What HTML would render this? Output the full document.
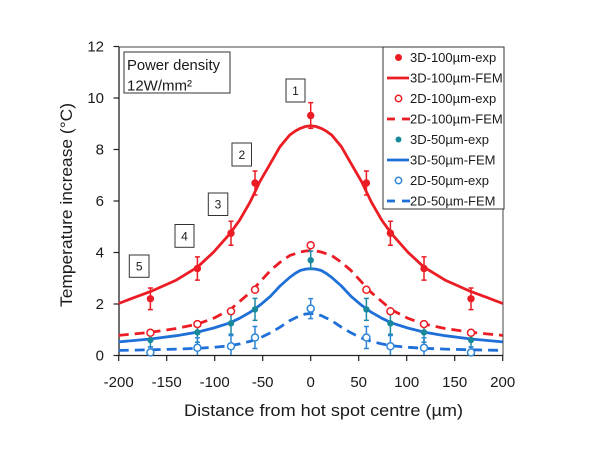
<!DOCTYPE html>
<html><head><meta charset="utf-8"><style>
html,body{margin:0;padding:0;background:#fff;}
svg{display:block;}
text{font-family:"Liberation Sans",sans-serif;fill:#1a1a1a;}
</style></head><body>
<svg width="600" height="473" viewBox="0 0 600 473" xmlns="http://www.w3.org/2000/svg">
<rect width="600" height="473" fill="#fff"/>
<!-- plot frame -->
<rect x="119" y="47" width="384" height="308.5" fill="none" stroke="#444" stroke-width="1"/>
<line x1="119" y1="47" x2="119" y2="355.5" stroke="#222" stroke-width="1.3"/>
<line x1="119" y1="355.5" x2="503" y2="355.5" stroke="#222" stroke-width="1.3"/>
<!-- y ticks -->
<g stroke="#222" stroke-width="1.2">
<line x1="113.5" y1="355.5" x2="119" y2="355.5"/>
<line x1="113.5" y1="304" x2="119" y2="304"/>
<line x1="113.5" y1="252.5" x2="119" y2="252.5"/>
<line x1="113.5" y1="201" x2="119" y2="201"/>
<line x1="113.5" y1="149.5" x2="119" y2="149.5"/>
<line x1="113.5" y1="98" x2="119" y2="98"/>
<line x1="113.5" y1="46.5" x2="119" y2="46.5"/>
<!-- x ticks -->
<line x1="118.7" y1="355.5" x2="118.7" y2="361"/>
<line x1="166.7" y1="355.5" x2="166.7" y2="361"/>
<line x1="214.7" y1="355.5" x2="214.7" y2="361"/>
<line x1="262.7" y1="355.5" x2="262.7" y2="361"/>
<line x1="310.7" y1="355.5" x2="310.7" y2="361"/>
<line x1="358.7" y1="355.5" x2="358.7" y2="361"/>
<line x1="406.7" y1="355.5" x2="406.7" y2="361"/>
<line x1="454.7" y1="355.5" x2="454.7" y2="361"/>
<line x1="502.7" y1="355.5" x2="502.7" y2="361"/>
</g>
<!-- y tick labels -->
<g font-size="15" text-anchor="end">
<text x="104" y="360.5">0</text>
<text x="104" y="309">2</text>
<text x="104" y="257.5">4</text>
<text x="104" y="206">6</text>
<text x="104" y="154.5">8</text>
<text x="104" y="103">10</text>
<text x="104" y="51.5">12</text>
</g>
<!-- x tick labels -->
<g font-size="15" text-anchor="middle">
<text x="118.7" y="387">-200</text>
<text x="166.7" y="387">-150</text>
<text x="214.7" y="387">-100</text>
<text x="262.7" y="387">-50</text>
<text x="310.7" y="387">0</text>
<text x="358.7" y="387">50</text>
<text x="406.7" y="387">100</text>
<text x="454.7" y="387">150</text>
<text x="502.7" y="387">200</text>
</g>
<!-- axis titles -->
<text x="323.5" y="416" font-size="17" text-anchor="middle" textLength="279" lengthAdjust="spacingAndGlyphs">Distance from hot spot centre (µm)</text>
<text transform="translate(72,205) rotate(-90)" font-size="17" text-anchor="middle" textLength="204" lengthAdjust="spacingAndGlyphs">Temperature increase (°C)</text>

<!-- curves -->
<g fill="none" stroke-width="2.8" stroke-linejoin="round" stroke-linecap="butt">
<polyline stroke="#ec1c24" points="118.7,303.5 134.5,297.4 150.4,291.6 176.3,280.1 197.4,267.2 213.7,252.0 230.1,233.4 239.7,220.1 250.2,201.8 259.8,181.7 270.4,163.4 280.0,146.7 289.6,135.1 295,131.2 300.1,128.4 305.5,126.5 310.7,125.8 315.9,126.5 321.3,128.4 326.4,131.2 331.8,135.1 341.4,146.7 351.0,163.4 361.6,181.7 371.2,201.8 381.7,220.1 391.3,233.4 407.7,252.0 424.0,267.2 445.1,280.1 471.0,291.6 486.9,297.4 502.7,303.5"/>
<polyline stroke="#ec1c24" stroke-dasharray="10,6" points="118.7,335.4 150.4,332.3 176.3,328.5 197.4,324.1 213.7,318.2 230.1,309.7 239.7,301.4 250.2,292.4 259.8,282.1 270.4,270.5 280.0,262.3 289.6,255.6 300.1,252.0 305.5,251.0 310.7,250.7 315.9,251.0 321.3,252.0 331.8,255.6 341.4,262.3 351.0,270.5 361.6,282.1 371.2,292.4 381.7,301.4 391.3,309.7 407.7,318.2 424.0,324.1 445.1,328.5 471.0,332.3 502.7,335.4"/>
<polyline stroke="#1f6fd8" points="118.7,341.9 150.4,339.0 176.3,335.7 197.4,332.1 213.7,328.0 230.1,322.8 239.7,318.2 250.2,312.2 259.8,305.3 270.4,296.3 280.0,286.0 289.6,277.5 295,273.5 300.1,270.5 305.5,269.1 310.7,268.7 315.9,269.1 321.3,270.5 326.4,273.5 331.8,277.5 341.4,286.0 351.0,296.3 361.6,305.3 371.2,312.2 381.7,318.2 391.3,322.8 407.7,328.0 424.0,332.1 445.1,335.7 471.0,339.0 502.7,341.9"/>
<polyline stroke="#1f6fd8" stroke-dasharray="10,6" points="118.7,350.4 150.4,349.8 176.3,349.1 197.4,348.3 213.7,347.3 230.1,345.7 239.7,343.9 250.2,341.3 259.8,338.0 270.4,332.8 280.0,327.2 289.6,320.7 300.1,315.6 305.5,314.0 310.7,313.5 315.9,314.0 321.3,315.6 331.8,320.7 341.4,327.2 351.0,332.8 361.6,338.0 371.2,341.3 381.7,343.9 391.3,345.7 407.7,347.3 424.0,348.3 445.1,349.1 471.0,349.8 502.7,350.4"/>
</g>

<!-- error bars 3D-100 -->
<g stroke="#ec1c24" stroke-width="1.5">
<path d="M150.4,288 V309.6 M147.9,288 H152.9 M147.9,309.6 H152.9"/>
<path d="M197.4,256.9 V280.1 M194.9,256.9 H199.9 M194.9,280.1 H199.9"/>
<path d="M231,221.2 V245.2 M228.5,221.2 H233.5 M228.5,245.2 H233.5"/>
<path d="M255,171 V195 M252.5,171 H257.5 M252.5,195 H257.5"/>
<path d="M310.7,102.6 V128.4 M308.2,102.6 H313.2 M308.2,128.4 H313.2"/>
<path d="M366.4,171 V195 M363.9,171 H368.9 M363.9,195 H368.9"/>
<path d="M390.4,221.2 V245.2 M387.9,221.2 H392.9 M387.9,245.2 H392.9"/>
<path d="M424,256.9 V280.1 M421.5,256.9 H426.5 M421.5,280.1 H426.5"/>
<path d="M471,288 V309.6 M468.5,288 H473.5 M468.5,309.6 H473.5"/>
</g>
<!-- error bars 3D-50 -->
<g stroke="#1d8aa8" stroke-width="1.5">
<path d="M150.4,333 V347 M147.9,333 H152.9 M147.9,347 H152.9"/>
<path d="M197.4,322.3 V342.3 M194.9,322.3 H199.9 M194.9,342.3 H199.9"/>
<path d="M231,312.3 V334.3 M228.5,312.3 H233.5 M228.5,334.3 H233.5"/>
<path d="M255,298.4 V320.4 M252.5,298.4 H257.5 M252.5,320.4 H257.5"/>
<path d="M310.7,251 V269 M308.2,251 H313.2 M308.2,269 H313.2"/>
<path d="M366.4,298.4 V320.4 M363.9,298.4 H368.9 M363.9,320.4 H368.9"/>
<path d="M390.4,312.3 V334.3 M387.9,312.3 H392.9 M387.9,334.3 H392.9"/>
<path d="M424,322.3 V342.3 M421.5,322.3 H426.5 M421.5,342.3 H426.5"/>
<path d="M471,333 V347 M468.5,333 H473.5 M468.5,347 H473.5"/>
</g>
<!-- error bars 2D-50 -->
<g stroke="#2f86d8" stroke-width="1.5">
<path d="M150.4,347 V355 M147.9,347 H152.9"/>
<path d="M197.4,337.8 V355 M194.9,337.8 H199.9"/>
<path d="M231,335.5 V355 M228.5,335.5 H233.5"/>
<path d="M255,326.5 V348.5 M252.5,326.5 H257.5 M252.5,348.5 H257.5"/>
<path d="M310.7,298.6 V318.6 M308.2,298.6 H313.2 M308.2,318.6 H313.2"/>
<path d="M366.4,326.5 V348.5 M363.9,326.5 H368.9 M363.9,348.5 H368.9"/>
<path d="M390.4,335.5 V355 M387.9,335.5 H392.9"/>
<path d="M424,337.8 V355 M421.5,337.8 H426.5"/>
<path d="M471,347 V355 M468.5,347 H473.5"/>
</g>

<!-- markers 3D-100 exp -->
<g fill="#ec1c24">
<circle cx="150.4" cy="298.8" r="3.7"/>
<circle cx="197.4" cy="268.5" r="3.7"/>
<circle cx="231" cy="233.2" r="3.7"/>
<circle cx="255" cy="183" r="3.7"/>
<circle cx="310.7" cy="115.5" r="3.7"/>
<circle cx="366.4" cy="183" r="3.7"/>
<circle cx="390.4" cy="233.2" r="3.7"/>
<circle cx="424" cy="268.5" r="3.7"/>
<circle cx="471" cy="298.8" r="3.7"/>
</g>
<!-- 2D-100 exp -->
<g fill="#fff" stroke="#ec1c24" stroke-width="1.5">
<circle cx="150.4" cy="332.8" r="3.5"/>
<circle cx="197.4" cy="324.1" r="3.5"/>
<circle cx="231" cy="311.2" r="3.5"/>
<circle cx="255" cy="289.8" r="3.5"/>
<circle cx="310.7" cy="245.3" r="3.5"/>
<circle cx="366.4" cy="289.8" r="3.5"/>
<circle cx="390.4" cy="311.2" r="3.5"/>
<circle cx="424" cy="324.1" r="3.5"/>
<circle cx="471" cy="332.8" r="3.5"/>
</g>
<!-- 3D-50 exp -->
<g fill="#17899a">
<circle cx="150.4" cy="340" r="3.2"/>
<circle cx="197.4" cy="332.3" r="3.2"/>
<circle cx="231" cy="323.3" r="3.2"/>
<circle cx="255" cy="309.4" r="3.2"/>
<circle cx="310.7" cy="260.2" r="3.2"/>
<circle cx="366.4" cy="309.4" r="3.2"/>
<circle cx="390.4" cy="323.3" r="3.2"/>
<circle cx="424" cy="332.3" r="3.2"/>
<circle cx="471" cy="340" r="3.2"/>
</g>
<!-- 2D-50 exp -->
<g fill="#fff" stroke="#2f86d8" stroke-width="1.5">
<circle cx="150.4" cy="352.4" r="3.5"/>
<circle cx="197.4" cy="347.8" r="3.5"/>
<circle cx="231" cy="346.3" r="3.5"/>
<circle cx="255" cy="337.5" r="3.5"/>
<circle cx="310.7" cy="308.6" r="3.5"/>
<circle cx="366.4" cy="337.5" r="3.5"/>
<circle cx="390.4" cy="346.3" r="3.5"/>
<circle cx="424" cy="347.8" r="3.5"/>
<circle cx="471" cy="352.4" r="3.5"/>
</g>

<!-- power density box -->
<rect x="124" y="52" width="106" height="41" fill="#fff" stroke="#333" stroke-width="1"/>
<text x="127" y="70" font-size="15" textLength="93" lengthAdjust="spacingAndGlyphs">Power density</text>
<text x="127" y="90.5" font-size="15">12W/mm²</text>

<!-- number boxes -->
<g fill="#fff" stroke="#333" stroke-width="1">
<rect x="286" y="79" width="19" height="23"/>
<rect x="232" y="143" width="19.5" height="23"/>
<rect x="208.3" y="193" width="19.5" height="22.5"/>
<rect x="175" y="224.5" width="19" height="22.8"/>
<rect x="129.3" y="255" width="19.7" height="22.3"/>
</g>
<g font-size="12" text-anchor="middle">
<text x="295.5" y="95">1</text>
<text x="241.8" y="159">2</text>
<text x="218" y="208.5">3</text>
<text x="184.5" y="240.5">4</text>
<text x="139.2" y="270.5">5</text>
</g>

<!-- legend -->
<rect x="383" y="47" width="121" height="162" fill="#fff" stroke="#333" stroke-width="1"/>
<g font-size="13">
<circle cx="398.5" cy="57.5" r="3.5" fill="#ec1c24"/>
<text x="410" y="62">3D-100µm-exp</text>
<line x1="387" y1="78" x2="409" y2="78" stroke="#ec1c24" stroke-width="2.8"/>
<text x="410" y="82.5">3D-100µm-FEM</text>
<circle cx="398.5" cy="98.5" r="3.2" fill="#fff" stroke="#ec1c24" stroke-width="1.5"/>
<text x="410" y="103">2D-100µm-exp</text>
<line x1="387" y1="119" x2="395" y2="119" stroke="#ec1c24" stroke-width="2.8"/>
<line x1="402" y1="119" x2="410" y2="119" stroke="#ec1c24" stroke-width="2.8"/>
<text x="410" y="123.5">2D-100µm-FEM</text>
<circle cx="398.5" cy="139.5" r="3" fill="#17899a"/>
<text x="410" y="144">3D-50µm-exp</text>
<line x1="387" y1="160" x2="409" y2="160" stroke="#1f6fd8" stroke-width="2.8"/>
<text x="410" y="164.5">3D-50µm-FEM</text>
<circle cx="398.5" cy="180.5" r="3.2" fill="#fff" stroke="#2f86d8" stroke-width="1.5"/>
<text x="410" y="185">2D-50µm-exp</text>
<line x1="387" y1="201" x2="395" y2="201" stroke="#1f6fd8" stroke-width="2.8"/>
<line x1="402" y1="201" x2="410" y2="201" stroke="#1f6fd8" stroke-width="2.8"/>
<text x="410" y="205.5">2D-50µm-FEM</text>
</g>
</svg>
</body></html>
